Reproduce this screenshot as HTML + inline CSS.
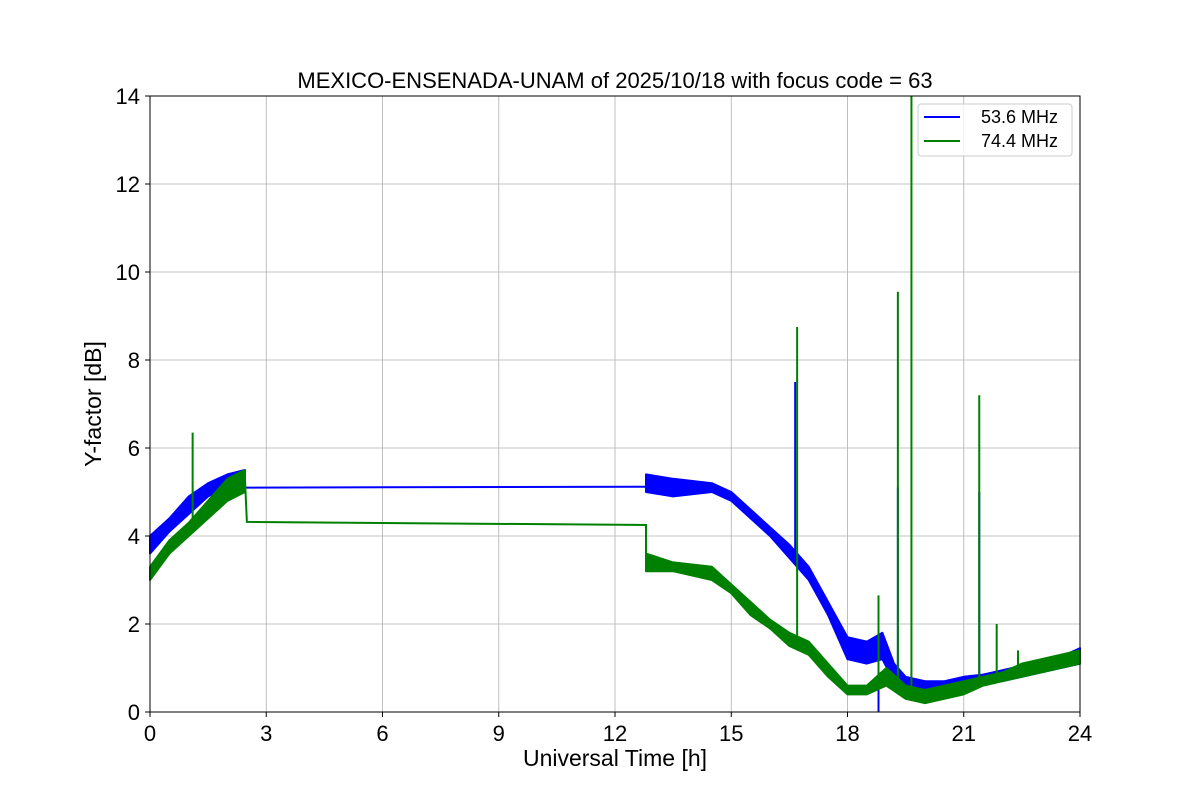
<!DOCTYPE html>
<html><head><meta charset="utf-8"><style>
body{margin:0;background:#fff;}
svg{display:block;font-family:"Liberation Sans","DejaVu Sans",sans-serif;}
</style></head><body>
<svg id="chart" width="1200" height="800" viewBox="0 0 1200 800" xmlns="http://www.w3.org/2000/svg">
<text x="615" y="88" font-size="22" text-anchor="middle">MEXICO-ENSENADA-UNAM of 2025/10/18 with focus code = 63</text>
<g id="grid"></g>
<g id="series"></g>
<rect x="150" y="96" width="930" height="616" fill="none" stroke="#000" stroke-width="1"/>
<g id="ticks"></g>
<text x="615" y="766" font-size="23" text-anchor="middle">Universal Time [h]</text>
<text x="0" y="0" font-size="23" text-anchor="middle" transform="translate(101,404) rotate(-90)">Y-factor [dB]</text>
<g>
<rect x="918" y="104" width="154" height="52" rx="3" fill="#fff" fill-opacity="0.8" stroke="#ccc"/>
<line x1="924" y1="117" x2="960" y2="117" stroke="blue" stroke-width="2"/>
<text x="981" y="123" font-size="18">53.6 MHz</text>
<line x1="924" y1="141" x2="960" y2="141" stroke="green" stroke-width="2"/>
<text x="981" y="147" font-size="18">74.4 MHz</text>
</g>
</svg>
<script>
const xTicks=[0,3,6,9,12,15,18,21,24];
const yTicks=[0,2,4,6,8,10,12,14];
const blueT=[0,0.5,1,1.5,2,2.45,12.8,13.5,14.5,15,15.5,16,16.5,17,17.5,18,18.5,18.9,19.2,19.5,20,20.5,21,21.5,22,22.5,23,23.5,24];
const blueHi=[4.0,4.4,4.9,5.2,5.4,5.5,5.4,5.3,5.2,5.0,4.6,4.2,3.8,3.3,2.5,1.7,1.6,1.8,1.1,0.8,0.7,0.7,0.8,0.85,0.95,1.05,1.15,1.25,1.45];
const blueLo=[3.6,4.1,4.5,4.9,5.1,5.2,5.0,4.9,5.0,4.8,4.4,4.0,3.5,3.0,2.2,1.2,1.1,1.2,0.7,0.5,0.45,0.5,0.55,0.65,0.7,0.8,0.9,1.0,1.1];
const blueFlatT=[2.45,12.8];
const blueFlatV=[5.1,5.12];
const blueSpikeT=[16.65,19.3,21.4,18.8];
const blueSpikeV=[7.5,5.1,5.0,0];
const greenT=[0,0.5,1,1.5,2,2.45,12.8,13.5,14.5,15,15.5,16,16.5,17,17.5,18,18.5,19,19.5,20,20.5,21,21.5,22,22.5,23,24];
const greenHi=[3.3,3.9,4.3,4.8,5.3,5.5,3.6,3.4,3.3,2.9,2.5,2.1,1.8,1.6,1.1,0.6,0.6,1.0,0.6,0.5,0.6,0.7,0.8,0.9,1.1,1.2,1.4];
const greenLo=[3.0,3.6,4.0,4.4,4.8,5.0,3.2,3.2,3.0,2.7,2.2,1.9,1.5,1.3,0.8,0.4,0.4,0.6,0.3,0.2,0.3,0.4,0.6,0.7,0.8,0.9,1.1];
const greenFlatT=[2.45,2.5,12.8,12.8];
const greenFlatV=[5.3,4.32,4.25,3.5];
const greenSpikeT=[1.1,16.7,18.8,19.3,19.65,21.4,21.85,22.4];
const greenSpikeV=[6.35,8.75,2.65,9.55,14,7.2,2.0,1.4];

const X=t=>150+t/24*930, Y=v=>712-v/14*616;
const NS="http://www.w3.org/2000/svg";
function mk(tag,attrs,parent){const e=document.createElementNS(NS,tag);for(const k in attrs)e.setAttribute(k,attrs[k]);parent.appendChild(e);return e;}
const grid=document.getElementById('grid'),ticks=document.getElementById('ticks'),ser=document.getElementById('series');
xTicks.forEach(t=>{
 const g=mk('line',{x1:X(t),x2:X(t),y1:96,y2:712,stroke:'#b0b0b0','stroke-width':0.8},grid);
 
 
 const k=mk('line',{x1:X(t),x2:X(t),y1:712,y2:717,stroke:'#000'},ticks);
 
 
 const l=mk('text',{x:X(t),y:741,'font-size':22,'text-anchor':'middle'},ticks);l.textContent=t;
 
 
});
yTicks.forEach(v=>{
 const g=mk('line',{x1:150,x2:1080,y1:Y(v),y2:Y(v),stroke:'#b0b0b0','stroke-width':0.8},grid);
 
 
 const k=mk('line',{x1:145,x2:150,y1:Y(v),y2:Y(v),stroke:'#000'},ticks);
 
 
 const l=mk('text',{x:140,y:Y(v)+8,'font-size':22,'text-anchor':'end'},ticks);l.textContent=v;
 
 
});
function band(T,H,L,col,name,splitAt){
 const segs=[[],[]];
 T.forEach((t,i)=>{segs[t<splitAt?0:1].push(i);});
 segs.forEach(s=>{
  if(!s.length)return;
  let pts=s.map(i=>X(T[i])+','+Y(H[i])).concat(s.slice().reverse().map(i=>X(T[i])+','+Y(L[i])));
  const p=mk('polygon',{points:pts.join(' '),fill:col,stroke:col,'stroke-width':2,'stroke-linejoin':'round'},ser);
  
  
 });
}
function line(T,V,col,name){
 const p=mk('polyline',{points:T.map((t,i)=>X(t)+','+Y(V[i])).join(' '),fill:'none',stroke:col,'stroke-width':2},ser);
 
 
}
function spikes(T,V,col,name,baseT,baseV){
 T.forEach((t,i)=>{
  let b=baseV[0];for(let j=0;j<baseT.length-1;j++){if(t>=baseT[j]&&t<=baseT[j+1]){const f=(t-baseT[j])/(baseT[j+1]-baseT[j]);b=baseV[j]+f*(baseV[j+1]-baseV[j]);}}
  const s=mk('line',{x1:X(t),x2:X(t),y1:Y(b),y2:Y(V[i]),stroke:col,'stroke-width':2},ser);
  
  
 });
}
band(blueT,blueHi,blueLo,'blue','blue-53mhz',12);
line(blueFlatT,blueFlatV,'blue','blue-53mhz-gap-line');
spikes(blueSpikeT,blueSpikeV,'blue','blue-spike',blueT,blueLo);
band(greenT,greenHi,greenLo,'green','green-74mhz',12);
line(greenFlatT,greenFlatV,'green','green-74mhz-gap-line');
spikes(greenSpikeT,greenSpikeV,'green','green-spike',greenT,greenLo);
</script>
</body></html>
